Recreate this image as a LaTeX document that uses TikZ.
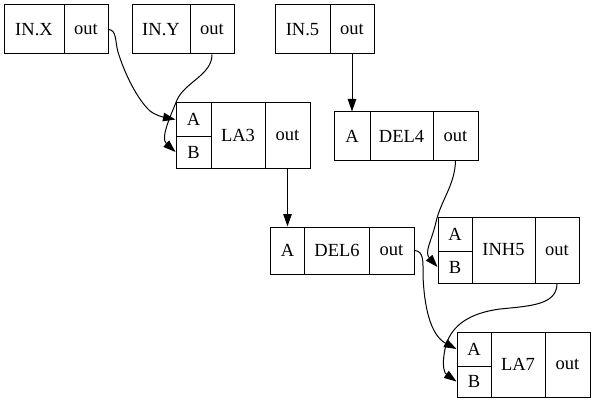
\documentclass[tikz,border=0pt]{standalone}
\usepackage{fontspec}
\setmainfont{Liberation Serif}
\usetikzlibrary{arrows.meta}
\begin{document}
\begin{tikzpicture}[x=1pt,y=-1pt,
  cell/.style={draw, line width=1pt, inner sep=0pt, font=\fontsize{18.5}{20}\selectfont},
  conn/.style={line width=1pt, -{Triangle[length=12.5pt,width=8.5pt]}}]
\useasboundingbox (0,0) rectangle (595,404);
% IN.X
\node[cell, minimum width=60pt, minimum height=49pt] (inx) at (34,29.5) {IN.X};
\node[cell, minimum width=44pt, minimum height=49pt] (inxo) at (86,29.5) {out};
% IN.Y
\node[cell, minimum width=58pt, minimum height=49pt] (iny) at (161,29.5) {IN.Y};
\node[cell, minimum width=44pt, minimum height=49pt] (inyo) at (212,29.5) {out};
% IN.5
\node[cell, minimum width=55pt, minimum height=49pt] (in5) at (302.5,29.5) {IN.5};
\node[cell, minimum width=44pt, minimum height=49pt] (in5o) at (352,29.5) {out};
% LA3
\node[cell, minimum width=35pt, minimum height=33pt] (la3a) at (193.5,119.5) {A};
\node[cell, minimum width=35pt, minimum height=32pt] (la3b) at (193.5,152) {B};
\node[cell, minimum width=54pt, minimum height=65pt] (la3) at (238,135.5) {LA3};
\node[cell, minimum width=45pt, minimum height=65pt] (la3o) at (287.5,135.5) {out};
% DEL4
\node[cell, minimum width=36pt, minimum height=48pt] (del4a) at (352,136) {A};
\node[cell, minimum width=63pt, minimum height=48pt] (del4) at (401.5,136) {DEL4};
\node[cell, minimum width=45pt, minimum height=48pt] (del4o) at (455.5,136) {out};
% DEL6
\node[cell, minimum width=34pt, minimum height=47pt] (del6a) at (287.5,250.5) {A};
\node[cell, minimum width=65pt, minimum height=47pt] (del6) at (337,250.5) {DEL6};
\node[cell, minimum width=45pt, minimum height=47pt] (del6o) at (391.5,250.5) {out};
% INH5
\node[cell, minimum width=34pt, minimum height=34pt] (inh5a) at (455,234) {A};
\node[cell, minimum width=34pt, minimum height=32pt] (inh5b) at (455,267) {B};
\node[cell, minimum width=63pt, minimum height=66pt] (inh5) at (503.5,250) {INH5};
\node[cell, minimum width=44pt, minimum height=66pt] (inh5o) at (557,250) {out};
% LA7
\node[cell, minimum width=34pt, minimum height=34pt] (la7a) at (474,349) {A};
\node[cell, minimum width=34pt, minimum height=31pt] (la7b) at (474,381.5) {B};
\node[cell, minimum width=54pt, minimum height=65pt] (la7) at (518,364.5) {LA7};
\node[cell, minimum width=45pt, minimum height=65pt] (la7o) at (567.5,364.5) {out};
% connectors
\draw[conn] (inxo.east) .. controls (117,30) and (115,42) .. (118,52)
  .. controls (125,75) and (138,100) .. (150,111)
  .. controls (157,116) and (163,117) .. (la3a.west);
\draw[conn] (inyo.south) .. controls (212,75) and (185,82) .. (177,100)
  .. controls (171,115) and (160,138) .. (la3b.west);
\draw[conn] (in5o.south) -- (del4a.north);
\draw[conn] (la3o.south) -- (del6a.north);
\draw[conn] (del4o.south) .. controls (455,185) and (441,200) .. (436,222)
  .. controls (432,240) and (424,252) .. (inh5b.west);
\draw[conn] (del6o.east) .. controls (424,251) and (423,262) .. (423,275)
  .. controls (424,305) and (430,335) .. (la7a.west);
\draw[conn] (inh5o.south) .. controls (557,305) and (530,306) .. (500,309)
  .. controls (470,313) and (452,325) .. (446,345)
  .. controls (442,360) and (443,372) .. (la7b.west);
\end{tikzpicture}
\end{document}
